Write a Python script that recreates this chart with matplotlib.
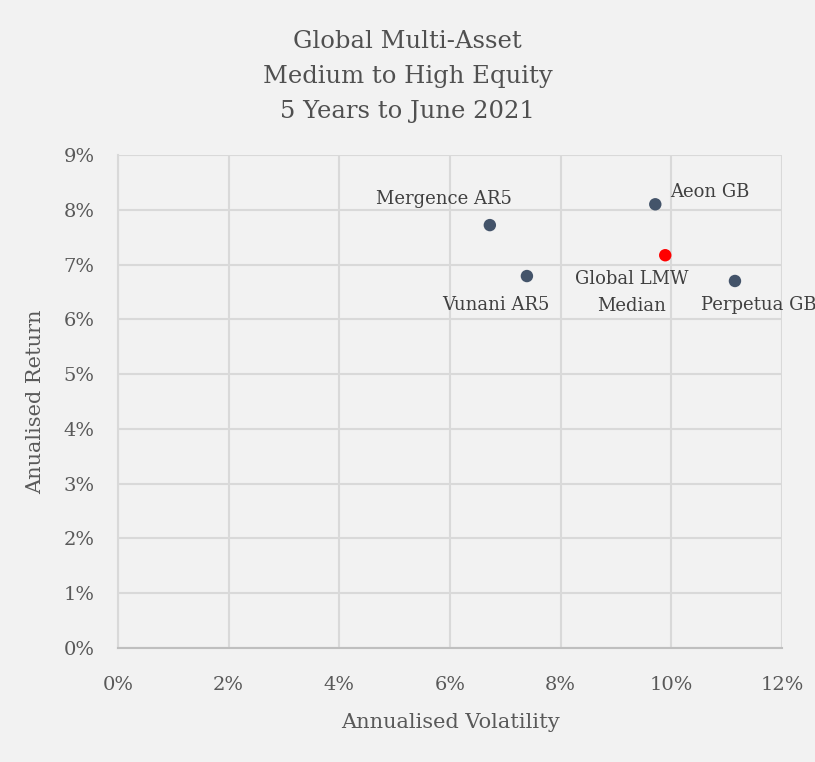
import matplotlib.pyplot as plt
from matplotlib.ticker import FuncFormatter

plt.rcParams['font.family'] = ['DejaVu Serif']

# data (percent)
names = ['Mergence AR5', 'Vunani AR5', 'Aeon GB', 'Global LMW\nMedian', 'Perpetua GB']
vol = [6.72, 7.39, 9.71, 9.89, 11.15]
ret = [7.72, 6.79, 8.10, 7.17, 6.70]
colors = ['#44546a', '#44546a', '#44546a', '#ff0000', '#44546a']
# label offsets (points) and alignment
offsets = [(-33, 19), (-22, -21), (11, 9), (-24, -27), (17, -17)]
aligns = ['center', 'center', 'left', 'center', 'center']

xticks = [0, 2, 4, 6, 8, 10, 12]
yticks = [0, 1, 2, 3, 4, 5, 6, 7, 8, 9]

bg = '#f2f2f2'
txt = '#595959'
fig = plt.figure(figsize=(8.15, 7.62), dpi=100, facecolor=bg)
ax = fig.add_axes([0.1448, 0.1496, 0.8147, 0.6470], facecolor=bg)

ax.scatter(vol, ret, c=colors, s=80, zorder=3, linewidths=0)
for n, x, y, off, ha in zip(names, vol, ret, offsets, aligns):
    ax.annotate(n, (x, y), xytext=off, textcoords='offset points', ha=ha, va='center',
                fontsize=13, color='#404040', linespacing=1.65)

ax.set_xlim(0, 12)
ax.set_ylim(0, 9)
ax.set_xticks(xticks)
ax.set_yticks(yticks)
ax.xaxis.set_major_formatter(FuncFormatter(lambda v, p: '%d%%' % v))
ax.yaxis.set_major_formatter(FuncFormatter(lambda v, p: '%d%%' % v))
ax.grid(True, color='#d9d9d9', linewidth=1.5)
ax.set_axisbelow(True)
ax.tick_params(length=0, labelsize=14, labelcolor=txt)
ax.tick_params(axis='y', pad=17)
ax.tick_params(axis='x', pad=20)
for s in ['top', 'right']:
    ax.spines[s].set_visible(False)
ax.spines['left'].set_color('#d9d9d9')
ax.spines['left'].set_linewidth(1.5)
ax.spines['bottom'].set_color('#bfbfbf')
ax.spines['bottom'].set_linewidth(1.5)

ax.set_xlabel('Annualised Volatility', fontsize=15, color=txt, labelpad=14)
ax.set_ylabel('Anualised Return', fontsize=15, color=txt, labelpad=13)

fig.text(0.5, 0.946, 'Global Multi-Asset', ha='center', va='center', fontsize=17.5, color='#505050')
fig.text(0.5, 0.900, 'Medium to High Equity', ha='center', va='center', fontsize=17.5, color='#505050')
fig.text(0.5, 0.854, '5 Years to June 2021', ha='center', va='center', fontsize=17.5, color='#505050')

fig.savefig('out.png', dpi=100, facecolor=bg)
